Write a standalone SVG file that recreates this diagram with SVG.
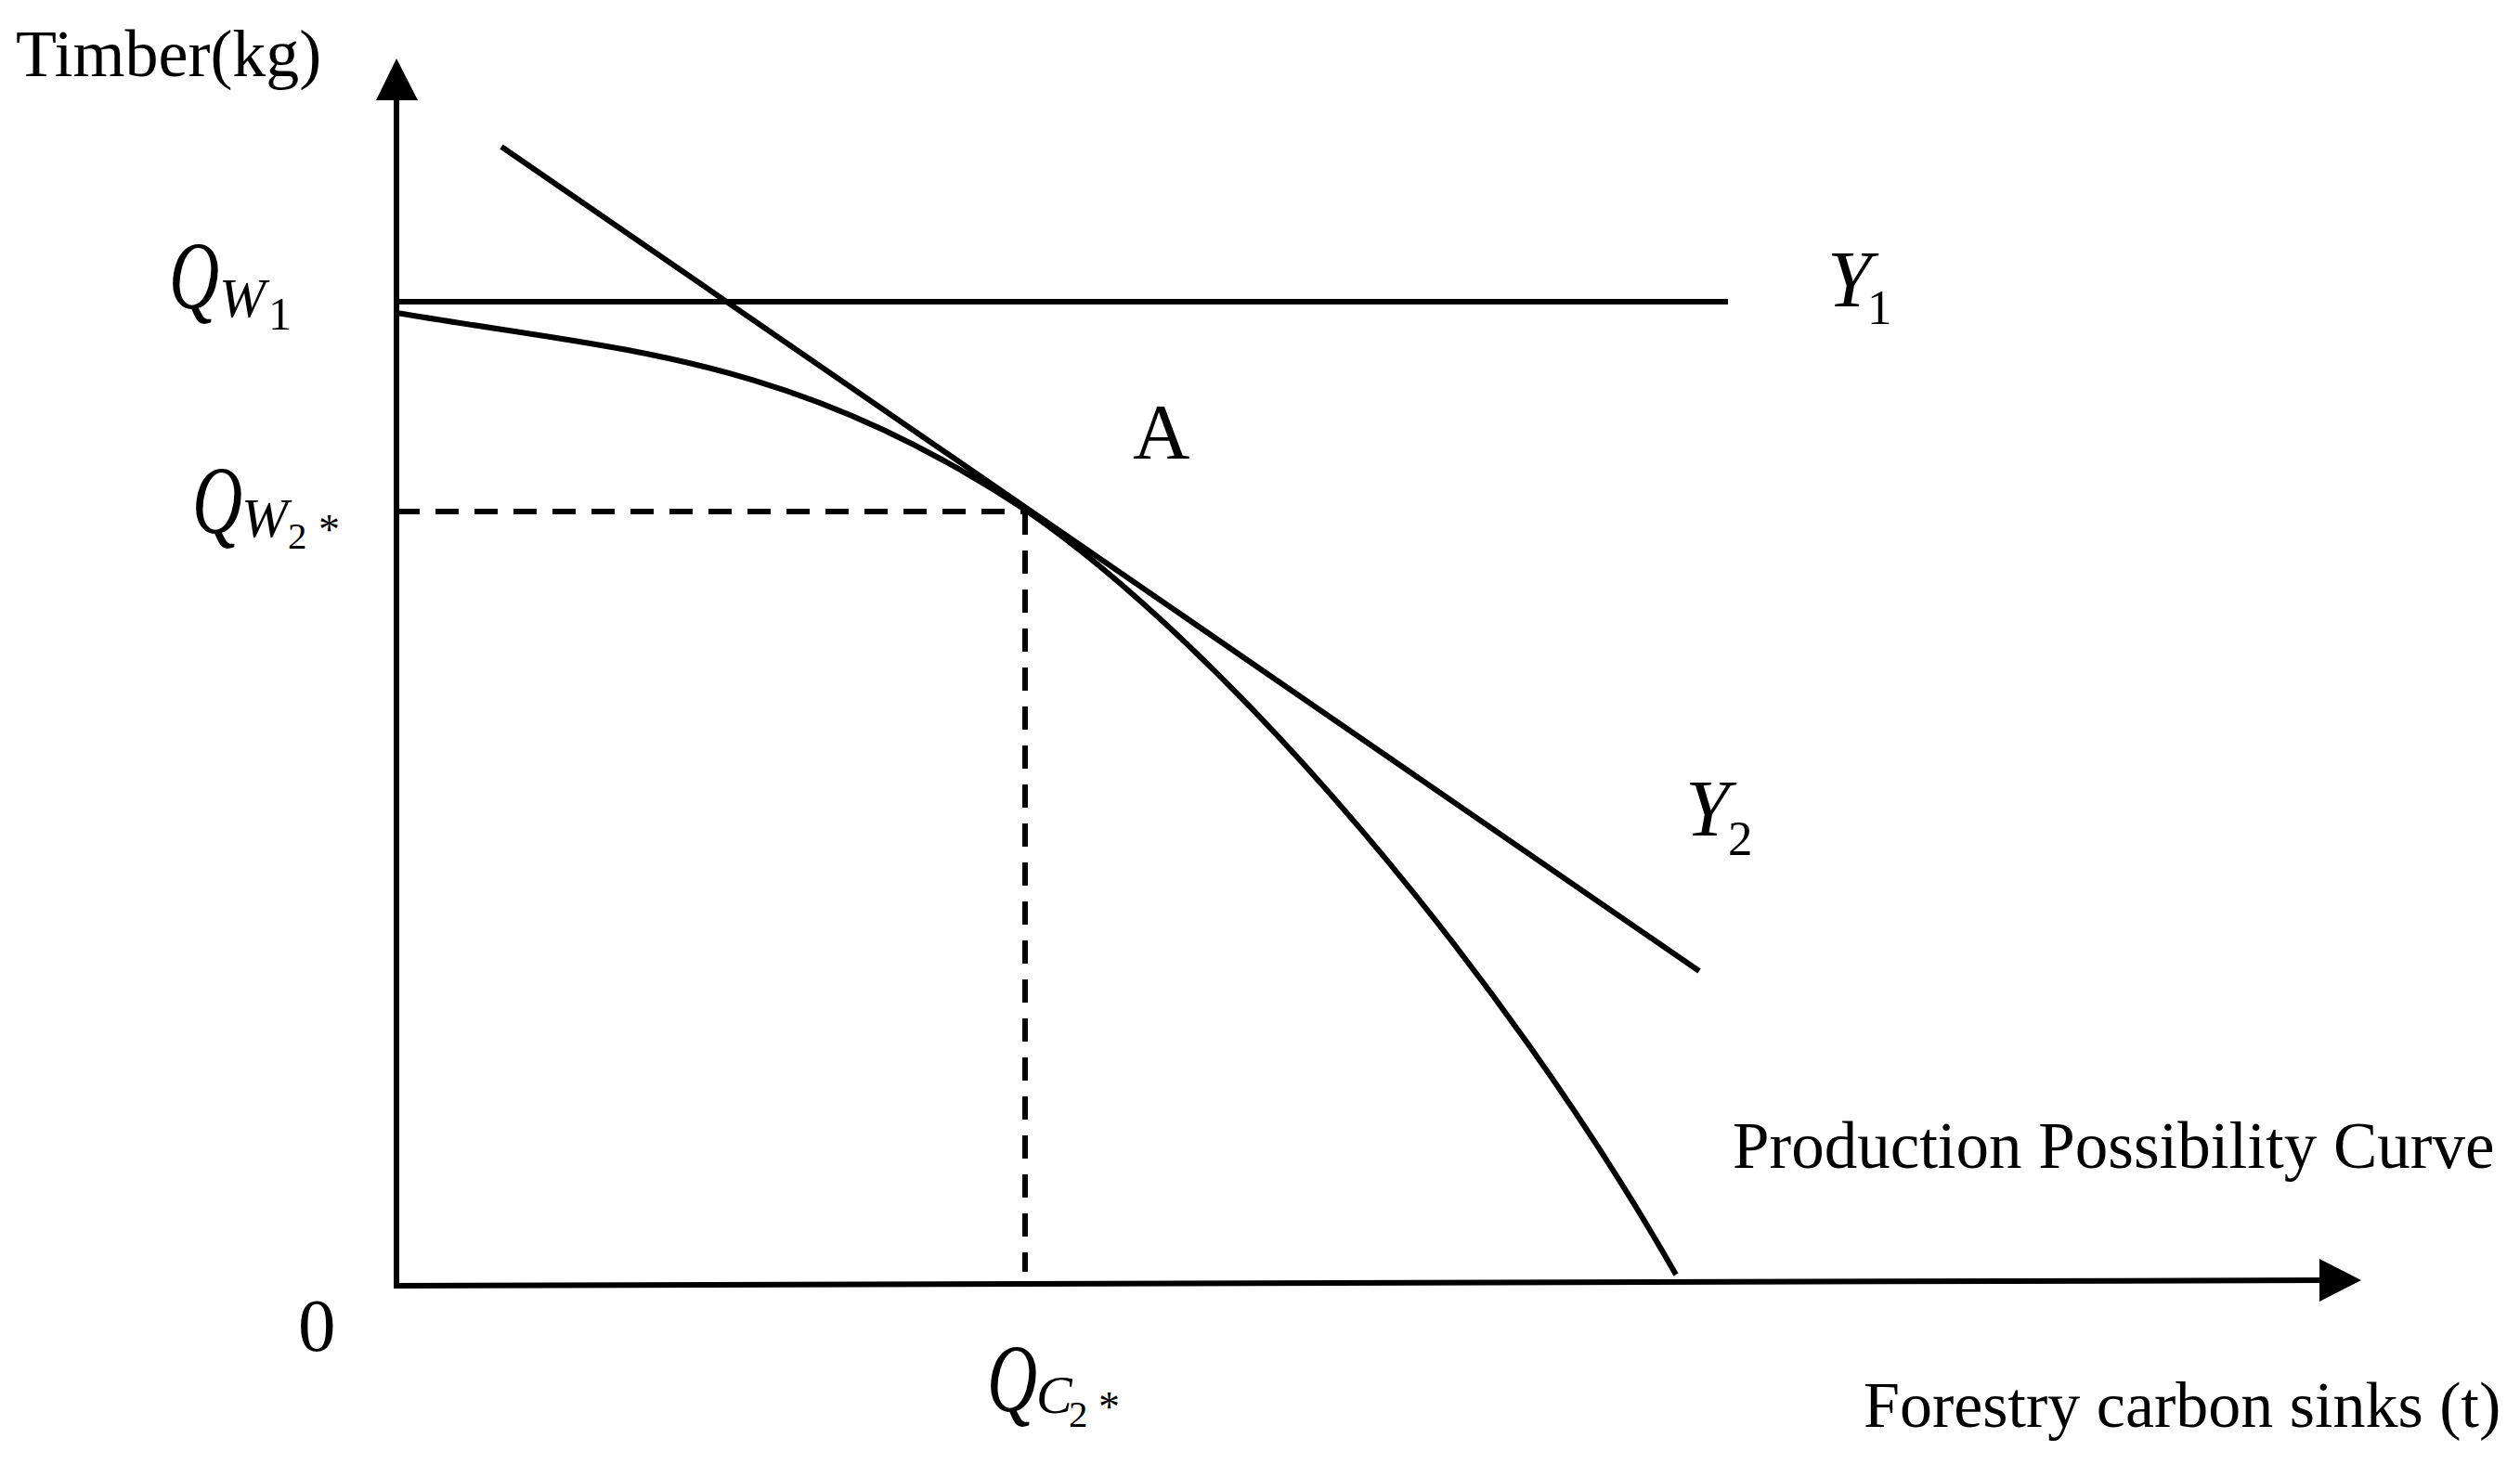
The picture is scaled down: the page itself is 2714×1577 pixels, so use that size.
<svg xmlns="http://www.w3.org/2000/svg" width="2714" height="1577" viewBox="0 0 2714 1577">
<style>
.ln{fill:none;stroke:#000;stroke-width:6;stroke-linecap:butt}
.dash{fill:none;stroke:#000;stroke-width:6;stroke-dasharray:25 17}
.t{font-family:"Liberation Serif","Times New Roman",serif;fill:#000}
.m{font-family:"Liberation Serif","Times New Roman",serif;font-style:italic;fill:#000}
.d{font-family:"Liberation Serif","Times New Roman",serif;fill:#000}
</style>
<rect width="2714" height="1577" fill="#fff"/>
<g id="axes">
  <line class="ln" x1="427" y1="1385" x2="427" y2="100"/>
  <polygon points="427,63 405,108 450,108" fill="#000"/>
  <line class="ln" x1="424" y1="1385" x2="2505" y2="1379"/>
  <polygon points="2543,1379 2498,1356 2498,1402" fill="#000"/>
</g>
<g id="connectors">
  <line id="Y1-line" class="ln" x1="427" y1="325" x2="1861" y2="325"/>
  <line id="Y2-line" class="ln" x1="540" y1="158" x2="1830" y2="1046"/>
  <path id="ppc" class="ln" d="M427,337 C670,378 850,382 1104,549 C1320,697 1615,1040 1805,1373"/>
  <line class="dash" x1="427" y1="551" x2="1104" y2="551"/>
  <line class="dash" x1="1104" y1="551" x2="1104" y2="1370"/>
</g>
<g id="label-timber"><text class="t" x="17" y="82" font-size="72">Timber(kg)</text></g>
<g id="label-origin"><text class="d" x="321" y="1455" font-size="81">0</text></g>
<g id="label-A"><text class="t" x="1220" y="494" font-size="85">A</text></g>
<g id="label-QW1">
  <text class="m" transform="translate(182,332) scale(0.72,1)" font-size="104">Q</text>
  <text class="m" x="236" y="341" font-size="60">W</text>
  <text class="d" x="289" y="355" font-size="50">1</text>
</g>
<g id="label-QW2">
  <text class="m" transform="translate(207,574) scale(0.72,1)" font-size="104">Q</text>
  <text class="m" x="260" y="578" font-size="60">W</text>
  <text class="d" x="310" y="591" font-size="41">2</text>
  <text class="d" x="343" y="586" font-size="46">*</text>
</g>
<g id="label-QC2">
  <text class="m" transform="translate(1063,1520) scale(0.72,1)" font-size="104">Q</text>
  <text class="m" x="1116" y="1522" font-size="58">C</text>
  <text class="d" x="1151" y="1537" font-size="41">2</text>
  <text class="d" x="1183" y="1531" font-size="46">*</text>
</g>
<g id="label-Y1">
  <text class="m" x="1968" y="330" font-size="86">Y</text>
  <text class="d" x="2011" y="349" font-size="53">1</text>
</g>
<g id="label-Y2">
  <text class="m" x="1815" y="900" font-size="86">Y</text>
  <text class="d" x="1861" y="921" font-size="53">2</text>
</g>
<g id="label-ppc"><text class="t" x="1866" y="1258" font-size="71">Production Possibility Curve</text></g>
<g id="label-xaxis"><text class="t" x="2007" y="1537" font-size="70">Forestry carbon sinks (t)</text></g>
</svg>
